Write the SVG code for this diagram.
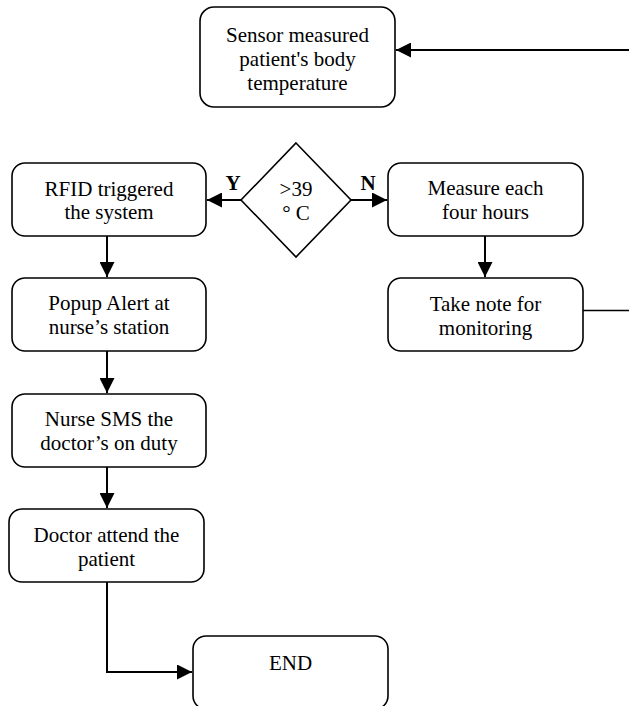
<svg xmlns="http://www.w3.org/2000/svg" width="629" height="706" viewBox="0 0 629 706">
<style>
.box{fill:#fff;stroke:#000;stroke-width:1.6}
.t{font-family:"Liberation Serif","Times New Roman",serif;font-size:21px;fill:#000;text-anchor:middle}
.lbl{font-family:"Liberation Serif","Times New Roman",serif;font-size:21px;fill:#000;text-anchor:middle}
.c{fill:none;stroke:#000;stroke-width:2}
.thin{fill:none;stroke:#000;stroke-width:1.4}
</style>
<defs>
<marker id="ah" markerWidth="15" markerHeight="15" refX="15" refY="7.5" orient="auto" markerUnits="userSpaceOnUse">
<path d="M0,0 L15,7.5 L0,15 Z" fill="#000"/>
</marker>
</defs>
<g id="connectors">
<line class="c" x1="629" y1="50" x2="396" y2="50" marker-end="url(#ah)"/>
<line class="c" x1="241" y1="200" x2="207" y2="200" marker-end="url(#ah)"/>
<line class="c" x1="351" y1="200" x2="387" y2="200" marker-end="url(#ah)"/>
<line class="c" x1="485" y1="236" x2="485" y2="277" marker-end="url(#ah)"/>
<line class="thin" x1="583" y1="310.5" x2="629" y2="310.5"/>
<line class="c" x1="107" y1="236" x2="107" y2="277" marker-end="url(#ah)"/>
<line class="c" x1="107" y1="351" x2="107" y2="393" marker-end="url(#ah)"/>
<line class="c" x1="107" y1="467" x2="107" y2="508" marker-end="url(#ah)"/>
<polyline class="c" points="107,582 107,672 192,672" marker-end="url(#ah)"/>
<text class="lbl" x="233" y="190" font-weight="bold">Y</text>
<text class="lbl" x="368" y="190" font-weight="bold">N</text>
</g>
<g id="sensor">
<rect class="box" x="200" y="7" width="195" height="100" rx="14"/>
<text class="t" x="297.5" y="42">Sensor measured</text>
<text class="t" x="297.5" y="66">patient's body</text>
<text class="t" x="297.5" y="90">temperature</text>
</g>
<g id="decision">
<polygon class="box" points="296,143 351,200 296,257 241,200"/>
<text class="t" x="296" y="196">&gt;39</text>
<text class="t" x="296" y="220">° C</text>
</g>
<g id="rfid">
<rect class="box" x="12" y="163" width="194" height="73" rx="13"/>
<text class="t" x="109" y="196">RFID triggered</text>
<text class="t" x="109" y="219">the system</text>
</g>
<g id="measure">
<rect class="box" x="388" y="163" width="195" height="73" rx="13"/>
<text class="t" x="485.5" y="195">Measure each</text>
<text class="t" x="485.5" y="219">four hours</text>
</g>
<g id="takenote">
<rect class="box" x="388" y="278" width="195" height="73" rx="13"/>
<text class="t" x="485.5" y="311">Take note for</text>
<text class="t" x="485.5" y="335">monitoring</text>
</g>
<g id="popup">
<rect class="box" x="12" y="278" width="194" height="73" rx="13"/>
<text class="t" x="109" y="310">Popup Alert at</text>
<text class="t" x="109" y="334">nurse’s station</text>
</g>
<g id="sms">
<rect class="box" x="12" y="394" width="194" height="73" rx="13"/>
<text class="t" x="109" y="426">Nurse SMS the</text>
<text class="t" x="109" y="450">doctor’s on duty</text>
</g>
<g id="doctor">
<rect class="box" x="9" y="509" width="195" height="73" rx="13"/>
<text class="t" x="106.5" y="542">Doctor attend the</text>
<text class="t" x="106.5" y="566">patient</text>
</g>
<g id="end">
<rect class="box" x="193" y="636" width="195" height="73" rx="13"/>
<text class="t" x="290.5" y="670">END</text>
</g>
</svg>
